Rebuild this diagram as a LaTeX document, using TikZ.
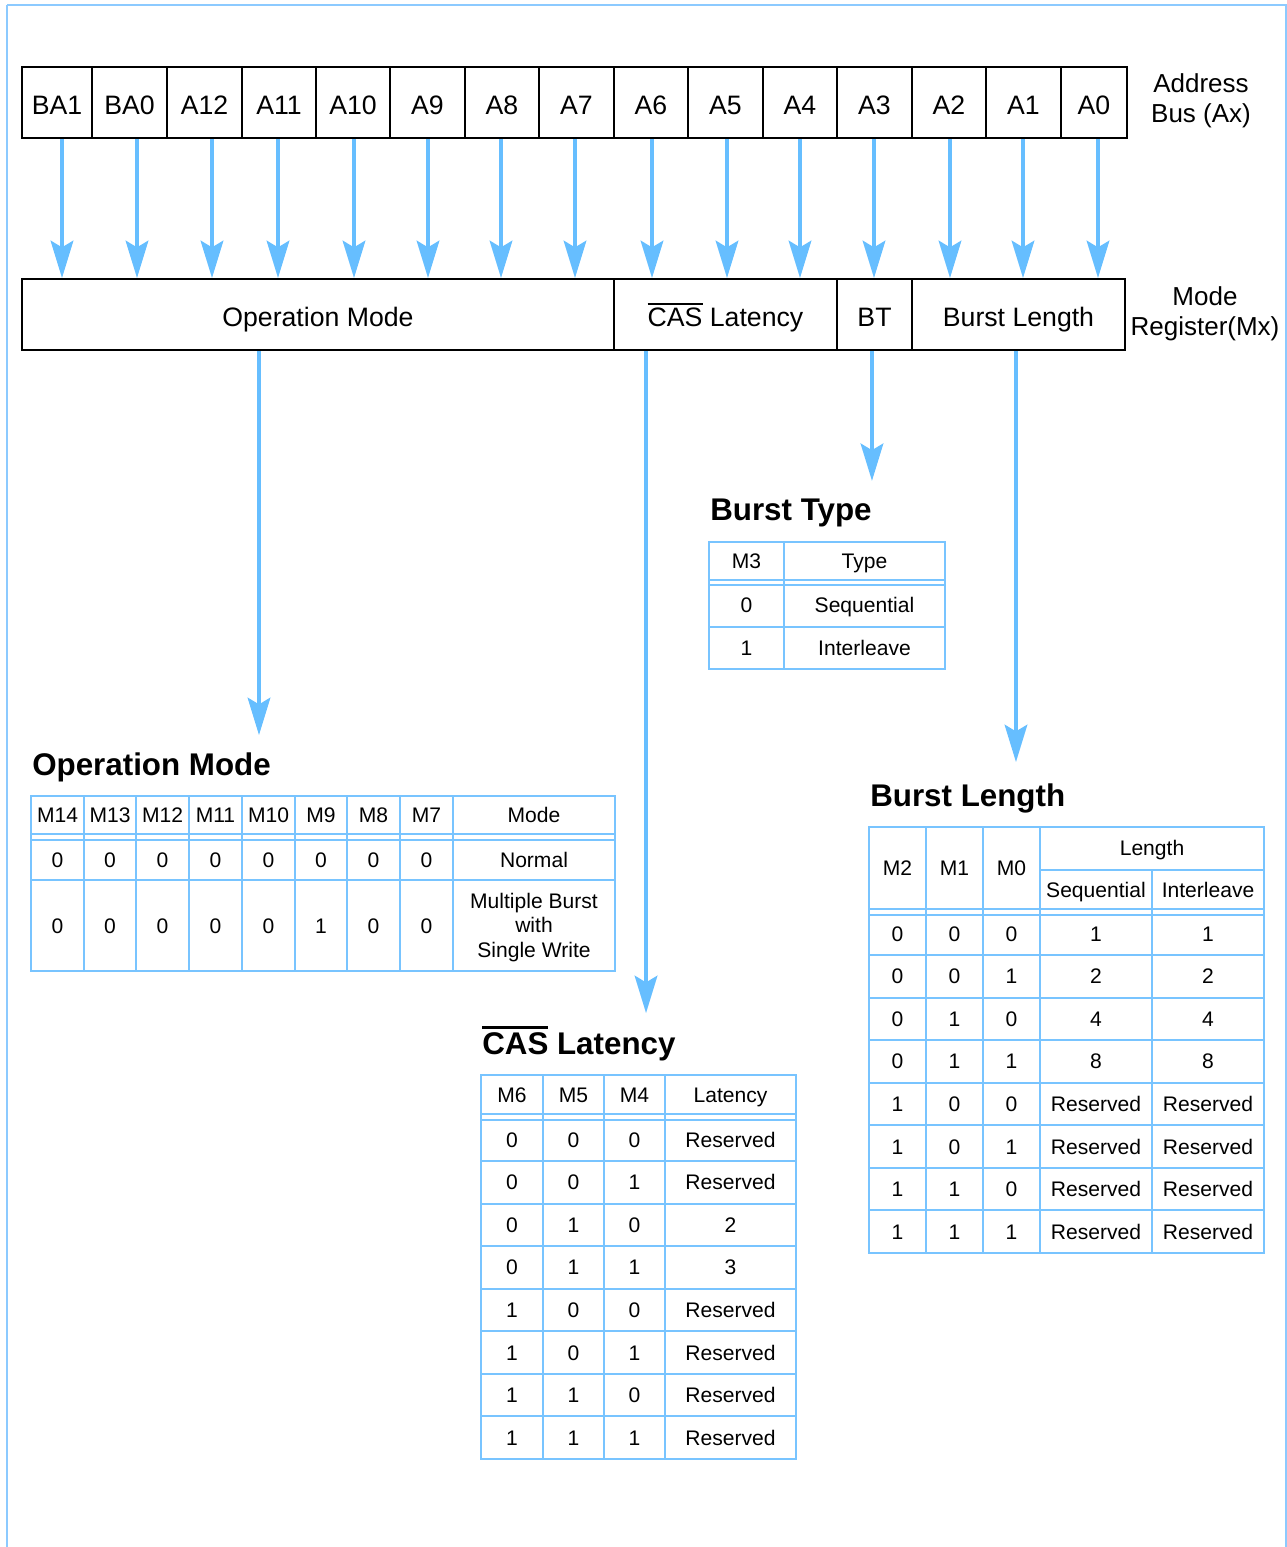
\documentclass[tikz,border=0pt]{standalone}
\usepackage{fontspec}
\setmainfont{Liberation Sans}
\usetikzlibrary{arrows.meta,positioning,calc}
\definecolor{busblue}{RGB}{102,190,255}
\definecolor{tblblue}{RGB}{120,196,255}
\definecolor{frameblue}{RGB}{140,202,255}
\newcommand{\ovbar}[1]{\vbox{\hrule height 0.075em\kern 0.11em\hbox{#1}}}

\begin{document}
\begin{tikzpicture}[
        %pixel grid of the reference, y pointing down
        x=0.75pt, y=-0.75pt,
        regcell/.style={draw, line width=1.5pt, inner sep=0pt, minimum height=53.25pt,
                        text height=18pt, text depth=0pt, font=\fontsize{20}{24}\selectfont},
        busarrow/.style={draw=busblue, line width=2.5pt,
                         -{Stealth[length=28pt,width=17pt,inset=5pt]}},
        tabline/.style={draw=tblblue, line width=1.5pt},
        celltext/.style={inner sep=0pt, text height=11.3pt, text depth=0pt,
                         font=\fontsize{15.8}{18.4}\selectfont},
        multitext/.style={inner sep=0pt, align=center, font=\fontsize{15.8}{18.4}\selectfont},
        tabtitle/.style={anchor=base west, inner sep=0pt, font=\bfseries\fontsize{23.5}{28}\selectfont},
        sidelabel/.style={align=center, inner sep=0pt, font=\fontsize{19.5}{22.5}\selectfont}
     ]
\useasboundingbox (0,0) rectangle (1287,1547);
% frame
\draw[frameblue, line width=1.6pt] (7,1547) -- (7,5);
\draw[frameblue, line width=0.9pt] (7,5) -- (1286,5) -- (1286,1547);

% mode register
\node[regcell, minimum width=444pt] (opm) at (318,314.5) {Operation Mode};
\node[regcell, minimum width=167.25pt] (casl) at (725.5,314.5) {\ovbar{CAS} Latency};
\node[regcell, minimum width=56.25pt] (bt) at (874.5,314.5) {BT};
\node[regcell, minimum width=159.75pt] (bl) at (1018.5,314.5) {Burst Length};

% address bus and its arrows
\foreach \n/\t/\l/\r/\ax in {ba1/BA1/22/92/62, ba0/BA0/92/167/137, a12/A12/167/242/212,
        a11/A11/242/316/278, a10/A10/316/390/354, a9/A9/390/465/428, a8/A8/465/539/501,
        a7/A7/539/614/575, a6/A6/614/688/652, a5/A5/688/763/727, a4/A4/763/837/800,
        a3/A3/837/912/874, a2/A2/912/986/950, a1/A1/986/1061/1023, a0/A0/1061/1127/1098}
{
    \pgfmathsetmacro\w{(\r-\l)*0.75}
    \pgfmathsetmacro\cx{(\l+\r)/2}
    \pgfmathsetmacro\dx{(\ax-\cx)*0.75}
    \node[regcell, minimum width=\w pt] (\n) at (\cx,102.5) {\t};
    \draw[busarrow] ([xshift=\dx pt]\n.south) -- ([xshift=\dx pt]\n.south |- opm.north);
}

\node[sidelabel] (addrlbl) at (1201,101) {Address\\Bus (Ax)};
\node[sidelabel] (mrlbl) at (1205,314) {Mode\\Register(Mx)};

% table titles
\node[tabtitle] (bttitle) at (710,520) {Burst Type};
\node[tabtitle] (optitle) at (32,775) {Operation Mode};
\node[tabtitle] (bltitle) at (870,806) {Burst Length};
\node[tabtitle] (cltitle) at (482,1054) {\ovbar{CAS} Latency};

% arrows down to the tables
\draw[busarrow, shorten >=12.75pt] ([xshift=-44.25pt]opm.south) -- ([xshift=-44.25pt]opm.south |- optitle.north);
\draw[busarrow, shorten >=9.75pt] ([xshift=-59.6pt]casl.south) -- ([xshift=-59.6pt]casl.south |- cltitle.north);
\draw[busarrow, shorten >=13pt] ([xshift=-1.9pt]bt.south) -- ([xshift=-1.9pt]bt.south |- bttitle.north);
\draw[busarrow, shorten >=15.75pt] ([xshift=-1.9pt]bl.south) -- ([xshift=-1.9pt]bl.south |- bltitle.north);

% Burst Type table
\draw[tabline] (709,542) rectangle (945,669);
\foreach \y in {580,585,627} \draw[tabline] (709,\y) -- (945,\y);
\draw[tabline] (784,542) -- (784,669);
\node[celltext] (bth1) at (746.5,561) {M3};
\node[celltext] (bth2) at (864.5,561) {Type};
\node[celltext] (bta1) at (746.5,605) {0};
\node[celltext] (bta2) at (864.5,605) {Sequential};
\node[celltext] (btb1) at (746.5,648) {1};
\node[celltext] (btb2) at (864.5,648) {Interleave};

% Operation Mode table
\draw[tabline] (31,796) rectangle (615,971);
\foreach \y in {834,840,880} \draw[tabline] (31,\y) -- (615,\y);
\foreach \x in {84,136,189,242,295,347,400,453} \draw[tabline] (\x,796) -- (\x,971);
\foreach \t/\x/\a/\b [count=\i] in {M14/57.5/0/0, M13/110/0/0, M12/162.5/0/0, M11/215.5/0/0,
        M10/268.5/0/0, M9/321/0/1, M8/373.5/0/0, M7/426.5/0/0}
{
    \node[celltext] (oh\i) at (\x,815) {\t};
    \node[celltext] (oa\i) at (\x,860) {\a};
    \node[celltext] (ob\i) at (\x,926) {\b};
}
\node[celltext] (oh9) at (534,815) {Mode};
\node[celltext] (oa9) at (534,860) {Normal};
\node[multitext] (ob9) at (534,927.5) {Multiple Burst\\with\\Single Write};

% CAS Latency table
\draw[tabline] (481,1075) rectangle (796,1459);
\foreach \y in {1114,1120} \draw[tabline] (481,\y) -- (796,\y);
\foreach \k in {0,...,6} \draw[tabline] (481,1161+\k*42.57) -- (796,1161+\k*42.57);
\foreach \x in {543,604,665} \draw[tabline] (\x,1075) -- (\x,1459);
\foreach \t/\x [count=\i] in {M6/512, M5/573.5, M4/634.5, Latency/730.5}
    \node[celltext] (ch\i) at (\x,1095) {\t};
\foreach \a/\b/\c/\v [count=\i] in {0/0/0/Reserved, 0/0/1/Reserved, 0/1/0/2, 0/1/1/3,
        1/0/0/Reserved, 1/0/1/Reserved, 1/1/0/Reserved, 1/1/1/Reserved}
{
    \pgfmathsetmacro\y{1161+(\i-1)*42.57-21.3}
    \node[celltext] (c\i a) at (512,\y) {\a};
    \node[celltext] (c\i b) at (573.5,\y) {\b};
    \node[celltext] (c\i c) at (634.5,\y) {\c};
    \node[celltext] (c\i v) at (730.5,\y) {\v};
}

% Burst Length table
\draw[tabline] (869,827) rectangle (1264,1253);
\draw[tabline] (1040,870) -- (1264,870);
\foreach \y in {909,915} \draw[tabline] (869,\y) -- (1264,\y);
\foreach \k in {0,...,6} \draw[tabline] (869,955+\k*42.57) -- (1264,955+\k*42.57);
\foreach \x in {926,983,1040} \draw[tabline] (\x,827) -- (\x,1253);
\draw[tabline] (1152,870) -- (1152,1253);
\foreach \t/\x [count=\i] in {M2/897.5, M1/954.5, M0/1011.5}
    \node[celltext] (lh\i) at (\x,868) {\t};
\node[celltext] (lhlen) at (1152,848) {Length};
\node[celltext] (lhseq) at (1096,890) {Sequential};
\node[celltext] (lhint) at (1208,890) {Interleave};
\foreach \a/\b/\c/\s/\v [count=\i] in {0/0/0/1/1, 0/0/1/2/2, 0/1/0/4/4, 0/1/1/8/8,
        1/0/0/Reserved/Reserved, 1/0/1/Reserved/Reserved, 1/1/0/Reserved/Reserved,
        1/1/1/Reserved/Reserved}
{
    \pgfmathsetmacro\y{955+(\i-1)*42.57-21.3}
    \node[celltext] (l\i a) at (897.5,\y) {\a};
    \node[celltext] (l\i b) at (954.5,\y) {\b};
    \node[celltext] (l\i c) at (1011.5,\y) {\c};
    \node[celltext] (l\i s) at (1096,\y) {\s};
    \node[celltext] (l\i v) at (1208,\y) {\v};
}
\end{tikzpicture}
\end{document}
